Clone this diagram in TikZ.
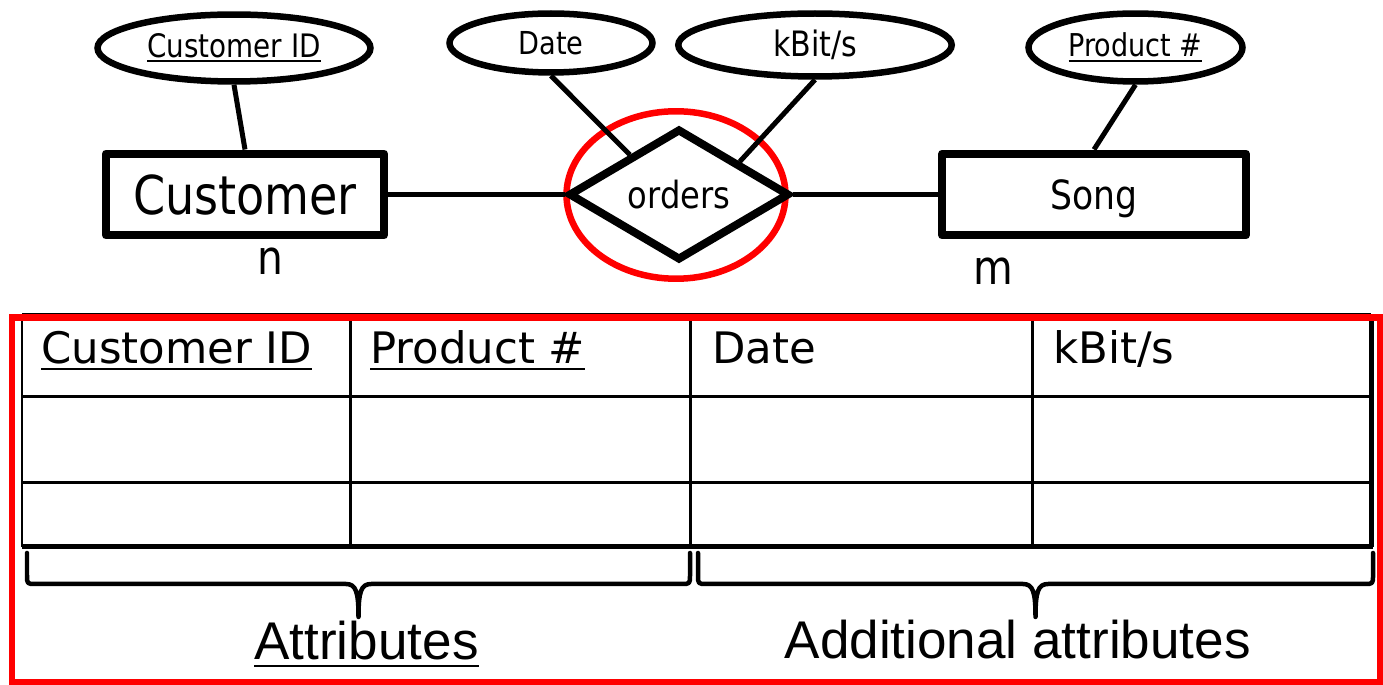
\documentclass[tikz,border=0pt]{standalone}
\usepackage{fontspec}
\setmainfont{DejaVu Sans}
\newfontfamily\erfont{DejaVu Sans}[FakeStretch=0.86]
\newfontfamily\capfont{Liberation Sans}
\newsavebox\keybox
\newcommand\keyline[1]{\sbox\keybox{#1}\rlap{\vrule width\wd\keybox height -0.09em depth \dimexpr0.09em+1.2pt\relax}\usebox\keybox}
\usetikzlibrary{shapes.geometric,calc}
\begin{document}
\begin{tikzpicture}[x=0.02cm,y=-0.02cm,
    erattr/.style={ellipse,draw,line width=0.13cm,inner sep=0pt,font=\erfont\fontsize{18.4}{22}\selectfont},
    erentity/.style={rectangle,draw,line width=0.16cm,line join=round,inner sep=0pt,minimum height=1.64cm},
    errel/.style={diamond,draw,line width=0.16cm,inner sep=0pt,minimum width=4.42cm,minimum height=2.6cm},
    link/.style={line width=0.1cm},
    redmark/.style={ellipse,draw=red,line width=0.13cm,inner sep=0pt,minimum width=4.38cm,minimum height=3.35cm},
    tabline/.style={line width=0.06cm},
    tabthick/.style={line width=0.1cm},
    bracepath/.style={line width=0.09cm,line cap=round,line join=round},
    colhead/.style={anchor=base west,inner sep=0pt,font=\fontsize{24.7}{30}\selectfont},
    caption/.style={anchor=base,inner sep=0pt,font=\capfont\fontsize{30.2}{36}\selectfont},
    card/.style={anchor=base,inner sep=0pt,font=\erfont\fontsize{27}{32}\selectfont}]
    \useasboundingbox (0,0) rectangle (1383,685);
    % ER part
    \node [redmark] (mark) at (676,195) {};
    \node [erattr,minimum width=5.46cm,minimum height=1.34cm] (cid) at (234,48) {\keyline{Customer ID}};
    \node [erattr,minimum width=4.06cm,minimum height=1.18cm,font=\erfont\fontsize{18}{22}\selectfont] (date) at (551,43) {Date};
    \node [erattr,minimum width=5.47cm,minimum height=1.26cm,font=\erfont\fontsize{19.9}{24}\selectfont] (kbit) at (815,45) {kBit/s};
    \node [erattr,minimum width=4.28cm,minimum height=1.36cm,font=\erfont\fontsize{17.9}{22}\selectfont] (pid) at (1135.5,47.5) {\keyline{Product \#}};
    \node [erentity,minimum width=5.56cm,font=\erfont\fontsize{30.5}{36}\selectfont] (cust) at (245,194.5) {Customer};
    \node [erentity,minimum width=6.07cm,text depth=0pt,font=\erfont\fontsize{22.9}{28}\selectfont] (song) at (1094,194.5) {Song};
    \node [errel,font=\erfont\fontsize{21.3}{26}\selectfont] (ord) at (679,194.5) {orders};
    \node [card] (n) at (270,275) {n};
    \node [card] (m) at (993,285) {m};
    \draw [link] (cid.south) -- (cust.north);
    \draw [link] (date.south) -- ($(ord.west)!0.57!(ord.north)$);
    \draw [link] (kbit.south) -- ($(ord.north)!0.53!(ord.east)$);
    \draw [link] (pid.south) -- (song.north);
    \draw [link] (cust) -- (ord);
    \draw [link] (ord) -- (song);
    % table
    \foreach \yy in {314.5,397,483}
        \draw [tabline] (22,\yy) -- (1371,\yy);
    \foreach \xx in {22,350.5,690,1032}
        \draw [tabline] (\xx,314.5) -- (\xx,547);
    \draw [tabthick] (1371,314.5) -- (1371,547);
    \draw [tabthick] (22,547) -- (1373,547);
    \node [colhead] (hcid) at (41,364) {\keyline{Customer ID}};
    \node [colhead] (hpid) at (370,364) {\keyline{Product \#}};
    \node [colhead] (hdate) at (712,364) {Date};
    \node [colhead] (hkbit) at (1053,364) {kBit/s};
    % braces
    \draw [bracepath] (27,553) -- (27,575) .. controls (27,584) .. (36,584) -- (346,584)
        .. controls (356,584) and (358.5,592) .. (358.5,617)
        .. controls (358.5,592) and (361,584) .. (371,584) -- (681,584)
        .. controls (690,584) .. (690,575) -- (690,553);
    \draw [bracepath] (698,553) -- (698,575) .. controls (698,584) .. (707,584) -- (1023,584)
        .. controls (1033,584) and (1035.5,592) .. (1035.5,617)
        .. controls (1035.5,592) and (1038,584) .. (1048,584) -- (1364,584)
        .. controls (1373,584) .. (1373,575) -- (1373,553);
    \node [caption] (attr) at (366.5,660) {\keyline{Attributes}};
    \node [caption] (addattr) at (1017.7,659) {Additional attributes};
    \draw [red,line width=0.13cm] (12,317.5) rectangle (1380,682.5);
\end{tikzpicture}
\end{document}
